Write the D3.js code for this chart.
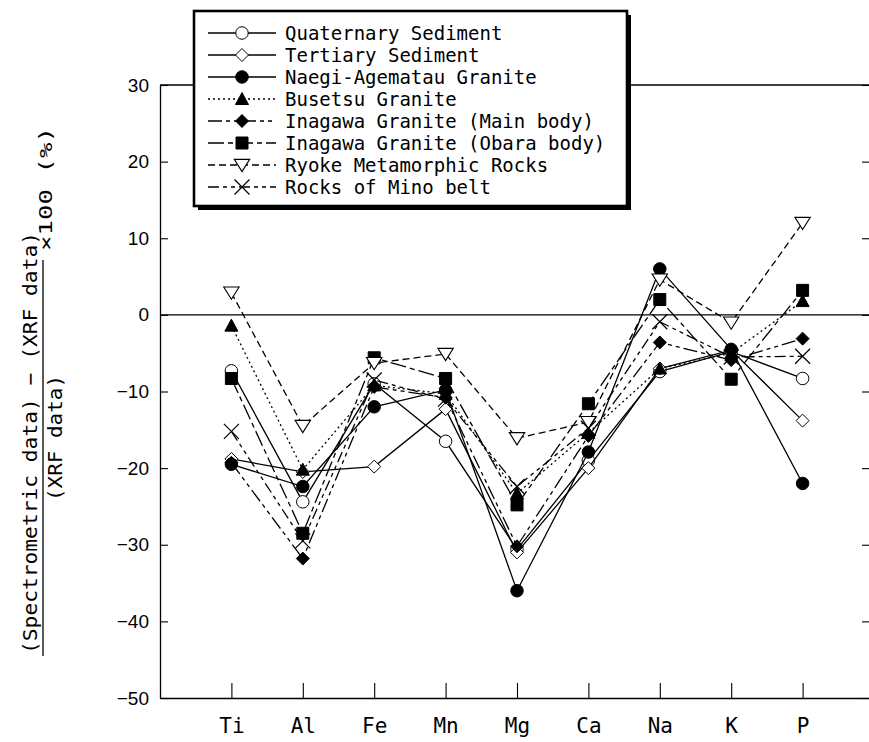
<!DOCTYPE html>
<html>
<head>
<meta charset="utf-8">
<script src="https://cdn.jsdelivr.net/npm/d3@7"></script>
<style>
  html, body { margin: 0; padding: 0; background: #fff; }
  svg { display: block; }
</style>
</head>
<body>
<svg id="chart" width="869" height="742"></svg>
<script>
// Elements on the category axis
const categories = ["Ti", "Al", "Fe", "Mn", "Mg", "Ca", "Na", "K", "P"];

// Relative deviation (%) of spectrometric data from XRF data, per rock group
const quaternarySediment = [-7.3, -24.4, -9.0, -16.5, -30.6, -19.0, -7.4, -4.8, -8.3];
const tertiarySediment   = [-18.8, -20.5, -19.8, -12.3, -31.0, -20.0, -7.0, -4.6, -13.8];
const naegiAgematauGranite = [-19.5, -22.4, -12.0, -9.8, -36.0, -17.9, 6.0, -4.5, -22.0];
const busetsuGranite     = [-1.4, -20.2, -9.2, -10.3, -23.3, -15.4, -7.0, -5.0, 1.8];
const inagawaMainBody    = [-19.3, -31.8, -9.4, -10.8, -30.2, -15.8, -3.6, -5.9, -3.1];
const inagawaObaraBody   = [-8.3, -28.5, -5.6, -8.3, -24.8, -11.6, 2.0, -8.4, 3.2];
const ryokeMetamorphic   = [2.9, -14.5, -6.3, -5.1, -16.1, -14.0, 4.6, -1.0, 12.0];
const rocksOfMinoBelt    = [-15.2, -29.5, -8.5, -11.0, -22.4, -14.8, -0.9, -5.5, -5.4];

const seriesNames = [
  "Quaternary Sediment",
  "Tertiary Sediment",
  "Naegi-Agematau Granite",
  "Busetsu Granite",
  "Inagawa Granite (Main body)",
  "Inagawa Granite (Obara body)",
  "Ryoke Metamorphic Rocks",
  "Rocks of Mino belt"
];
const seriesValues = [
  quaternarySediment, tertiarySediment, naegiAgematauGranite, busetsuGranite,
  inagawaMainBody, inagawaObaraBody, ryokeMetamorphic, rocksOfMinoBelt
];

const yTickValues = [30, 20, 10, 0, -10, -20, -30, -40, -50];

// ---- drawing styles ----
const markerKinds = ["circleOpen", "diamondOpen", "circleFilled", "triangleFilled",
                     "diamondFilled", "squareFilled", "triangleDownOpen", "cross"];
const dashes = [null, null, null, "2,3", "14,4,4,4,4,4", "16,4,5,4", "7,4", "11,4,4,4,4,4"];

// custom symbol drawers, size = full width in px
const symbolPath = {
  circle: s => ({ draw(c) { const r = s / 2; c.moveTo(r, 0); c.arc(0, 0, r, 0, 2 * Math.PI); } }),
  diamond: s => ({ draw(c) { const r = s / 2; c.moveTo(0, -r); c.lineTo(r, 0); c.lineTo(0, r); c.lineTo(-r, 0); c.closePath(); } }),
  square: s => ({ draw(c) { const r = s / 2; c.rect(-r, -r, s, s); } }),
  triangle: s => ({ draw(c) { const r = s / 2; c.moveTo(0, -r); c.lineTo(r, r * 0.85); c.lineTo(-r, r * 0.85); c.closePath(); } }),
  triangleDown: s => ({ draw(c) { const r = s / 2; c.moveTo(-r * 1.1, -r * 0.8); c.lineTo(r * 1.1, -r * 0.8); c.lineTo(0, r * 0.95); c.closePath(); } }),
  cross: s => ({ draw(c) { const r = s / 2; c.moveTo(-r, -r); c.lineTo(r, r); c.moveTo(r, -r); c.lineTo(-r, r); } })
};

function markerSpec(kind) {
  switch (kind) {
    case "circleOpen": return { type: symbolPath.circle(12.5), fill: "#fff", sw: 1 };
    case "circleFilled": return { type: symbolPath.circle(12.5), fill: "#000", sw: 1 };
    case "diamondOpen": return { type: symbolPath.diamond(13), fill: "#fff", sw: 1 };
    case "diamondFilled": return { type: symbolPath.diamond(13), fill: "#000", sw: 1 };
    case "triangleFilled": return { type: symbolPath.triangle(13), fill: "#000", sw: 1 };
    case "squareFilled": return { type: symbolPath.square(12), fill: "#000", sw: 1 };
    case "triangleDownOpen": return { type: symbolPath.triangleDown(14), fill: "#fff", sw: 1.1 };
    case "cross": return { type: symbolPath.cross(15), fill: "none", sw: 1.2 };
  }
}

const svg = d3.select("#chart");
const plot = { left: 160, right: 874, top: 85, bottom: 698 };

const x = d3.scalePoint().domain(categories).range([plot.left, plot.right]).padding(1);
const y = d3.scaleLinear().domain([-50, 30]).range([plot.bottom, plot.top]);

const tickFont = "'Liberation Sans', Arial, sans-serif";
const monoFont = "'DejaVu Sans Mono', monospace";

// frame: top and right edges
svg.append("line").attr("x1", plot.left).attr("x2", plot.right)
  .attr("y1", plot.top).attr("y2", plot.top).attr("stroke", "#000").attr("stroke-width", 1.3);
svg.append("line").attr("x1", 870).attr("x2", 870)
  .attr("y1", plot.top).attr("y2", plot.bottom).attr("stroke", "#000").attr("stroke-width", 1.3);

// left value axis, ticks pointing inward
const yAxis = svg.append("g").attr("transform", `translate(${plot.left},0)`)
  .call(d3.axisLeft(y).tickValues(yTickValues).tickSizeInner(-8).tickSizeOuter(0).tickPadding(11)
    .tickFormat(d => d < 0 ? "\u2212" + Math.abs(d) : d));
yAxis.select(".domain").attr("stroke-width", 1.3);
yAxis.selectAll(".tick line").attr("stroke-width", 1.1);
yAxis.selectAll("text").attr("font-family", tickFont).attr("font-size", 19).attr("fill", "#000");

// right-side inward ticks
const yAxisR = svg.append("g").attr("transform", "translate(870,0)")
  .call(d3.axisRight(y).tickValues(yTickValues).tickSizeInner(-8).tickSizeOuter(0).tickFormat(""));
yAxisR.select(".domain").remove();
yAxisR.selectAll(".tick line").attr("stroke-width", 1.1);

// category axis
const xAxis = svg.append("g").attr("transform", `translate(0,${plot.bottom})`)
  .call(d3.axisBottom(x).tickSizeInner(-15).tickSizeOuter(0).tickPadding(20));
xAxis.select(".domain").attr("stroke-width", 1.3);
xAxis.selectAll(".tick line").attr("stroke-width", 1.1);
xAxis.selectAll("text").attr("font-family", monoFont).attr("font-size", 21).attr("fill", "#000");

// zero reference line
svg.append("line").attr("x1", plot.left).attr("x2", plot.right)
  .attr("y1", y(0)).attr("y2", y(0)).attr("stroke", "#000").attr("stroke-width", 1.4);

// y axis title drawn as a fraction
const titleG = svg.append("g").attr("font-family", monoFont).attr("fill", "#000");
titleG.append("text")
  .attr("transform", "translate(37,443) rotate(-90)")
  .attr("text-anchor", "middle").attr("font-size", 20)
  .attr("textLength", 422).attr("lengthAdjust", "spacingAndGlyphs")
  .text("(Spectrometric data) \u2212 (XRF data)");
svg.append("line").attr("x1", 43).attr("x2", 43).attr("y1", 260).attr("y2", 656)
  .attr("stroke", "#000").attr("stroke-width", 1.3);
titleG.append("text")
  .attr("transform", "translate(62,438) rotate(-90)")
  .attr("text-anchor", "middle").attr("font-size", 20)
  .attr("textLength", 126).attr("lengthAdjust", "spacingAndGlyphs")
  .text("(XRF data)");
titleG.append("text")
  .attr("transform", "translate(52,251) rotate(-90)")
  .attr("text-anchor", "start").attr("font-size", 18)
  .attr("textLength", 124).attr("lengthAdjust", "spacingAndGlyphs")
  .text("\u00d7100 (%)");

// series lines and markers
const line = d3.line().x((d, i) => x(categories[i])).y(d => y(d));
seriesValues.forEach((vals, si) => {
  const g = svg.append("g");
  g.append("path").datum(vals).attr("d", line)
    .attr("fill", "none").attr("stroke", "#000").attr("stroke-width", 1.3)
    .attr("stroke-dasharray", dashes[si]);
  const spec = markerSpec(markerKinds[si]);
  g.selectAll("path.m").data(vals).join("path").attr("class", "m")
    .attr("transform", (d, i) => `translate(${x(categories[i])},${y(d)})`)
    .attr("d", d3.symbol().type(spec.type))
    .attr("fill", spec.fill).attr("stroke", "#000").attr("stroke-width", spec.sw);
});

// legend box with drop shadow
const lg = svg.append("g");
const box = { x: 194, y: 11, w: 433, h: 195 };
lg.append("rect").attr("x", box.x + 4).attr("y", box.y + 4).attr("width", box.w).attr("height", box.h).attr("fill", "#000");
lg.append("rect").attr("x", box.x).attr("y", box.y).attr("width", box.w).attr("height", box.h)
  .attr("fill", "#fff").attr("stroke", "#000").attr("stroke-width", 2.6);

seriesNames.forEach((name, i) => {
  const cy = 33 + i * 22;
  lg.append("line").attr("x1", 208).attr("x2", 276).attr("y1", cy).attr("y2", cy)
    .attr("stroke", "#000").attr("stroke-width", 1.3).attr("stroke-dasharray", dashes[i]);
  const spec = markerSpec(markerKinds[i]);
  lg.append("path").attr("transform", `translate(242,${cy})`)
    .attr("d", d3.symbol().type(spec.type))
    .attr("fill", spec.fill).attr("stroke", "#000").attr("stroke-width", spec.sw);
  lg.append("text").attr("x", 285).attr("y", cy + 7)
    .attr("font-family", monoFont).attr("font-size", 19).attr("fill", "#000")
    .text(name);
});
</script>
</body>
</html>
